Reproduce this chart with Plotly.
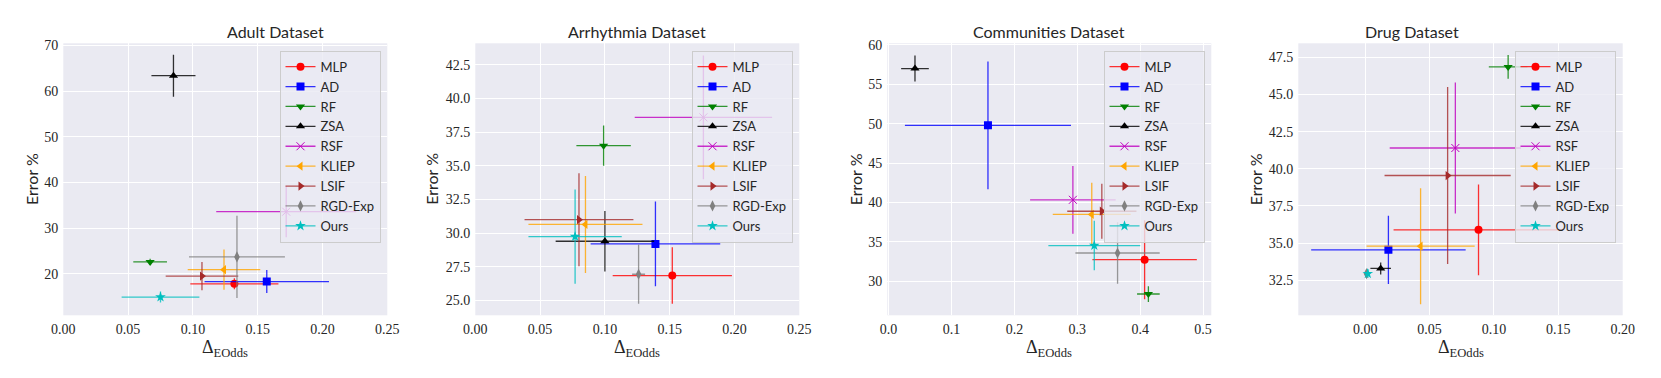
import plotly.graph_objects as go

methods = ["MLP", "AD", "RF", "ZSA", "RSF", "KLIEP", "LSIF", "RGD-Exp", "Ours"]
colors = ["#ff0000", "#0000ff", "#008000", "#000000", "#bf00bf", "#ffa500", "#a52a2a", "#808080", "#00bfbf"]
symbols = ["circle", "square", "triangle-down", "triangle-up", "x-thin-open",
           "triangle-left", "triangle-right", "diamond-tall", "star"]

titles = ["Adult Dataset", "Arrhythmia Dataset", "Communities Dataset", "Drug Dataset"]

# Adult
adult_x = [0.132, 0.157, 0.067, 0.085, 0.172, 0.124, 0.107, 0.134, 0.075]
adult_x_err = [0.034, 0.048, 0.013, 0.017, 0.054, 0.028, 0.028, 0.037, 0.030]
adult_y = [17.8, 18.3, 22.6, 63.4, 33.6, 20.9, 19.5, 23.7, 14.9]
adult_y_err = [1.2, 2.5, 0.7, 4.6, 5.6, 4.4, 3.1, 9.0, 1.2]

# Arrhythmia
arr_x = [0.152, 0.139, 0.099, 0.100, 0.176, 0.085, 0.080, 0.126, 0.077]
arr_x_err = [0.046, 0.050, 0.021, 0.038, 0.053, 0.044, 0.042, 0.005, 0.036]
arr_y = [26.85, 29.2, 36.5, 29.4, 38.6, 30.65, 31.0, 26.95, 29.75]
arr_y_err = [2.1, 3.15, 1.5, 2.25, 4.6, 3.6, 3.45, 2.2, 3.5]

# Communities
comm_x = [0.407, 0.158, 0.413, 0.042, 0.293, 0.323, 0.339, 0.364, 0.327]
comm_x_err = [0.083, 0.132, 0.018, 0.022, 0.068, 0.062, 0.055, 0.067, 0.073]
comm_y = [32.75, 49.8, 28.4, 57.0, 40.35, 38.5, 38.9, 33.6, 34.55]
comm_y_err = [5.0, 8.1, 1.0, 1.65, 4.3, 4.0, 3.5, 3.9, 3.15]

# Drug
drug_x = [0.088, 0.018, 0.111, 0.012, 0.070, 0.043, 0.064, 0.001, 0.002]
drug_x_err = [0.066, 0.060, 0.015, 0.008, 0.051, 0.042, 0.049, 0.002, 0.002]
drug_y = [35.9, 34.55, 46.85, 33.3, 41.4, 34.8, 39.55, 32.95, 32.95]
drug_y_err = [3.05, 2.3, 0.8, 0.4, 4.4, 3.9, 5.95, 0.3, 0.3]

datasets = [
    (adult_x, adult_x_err, adult_y, adult_y_err),
    (arr_x, arr_x_err, arr_y, arr_y_err),
    (comm_x, comm_x_err, comm_y, comm_y_err),
    (drug_x, drug_x_err, drug_y, drug_y_err),
]

# page body has an 8px margin, so draw into a slightly smaller figure
OFF = 8
W, H = 1661 - OFF, 378 - OFF
left_px = [63.3, 475.3, 887.3, 1298.3]
right_px = [387.3, 799.3, 1211.3, 1622.7]
top_px, bottom_px = 43.3, 315.3
legend_right_px = [380.5, 792.5, 1204.5, 1615.5]
ylabel_px = [31.7, 431.5, 855, 1255]


def px_x(p):
    return (p - OFF) / W


def px_y(p):
    return 1 - (p - OFF) / H


def rgba(h, a):
    return "rgba(%d,%d,%d,%s)" % (int(h[1:3], 16), int(h[3:5], 16), int(h[5:7], 16), a)


x_ranges = [[0, 0.25], [0, 0.25], [-0.002, 0.513], [-0.052, 0.2]]
y_ranges = [[10.9, 70.5], [23.9, 44.1], [25.7, 60.2], [30.15, 48.44]]
x_ticks = [[0, 0.05, 0.1, 0.15, 0.2, 0.25], [0, 0.05, 0.1, 0.15, 0.2, 0.25],
           [0, 0.1, 0.2, 0.3, 0.4, 0.5], [0, 0.05, 0.1, 0.15, 0.2]]
x_fmt = [".2f", ".2f", ".1f", ".2f"]
y_ticks = [[20, 30, 40, 50, 60, 70], [25, 27.5, 30, 32.5, 35, 37.5, 40, 42.5],
           [30, 35, 40, 45, 50, 55, 60], [32.5, 35, 37.5, 40, 42.5, 45, 47.5]]
y_fmt = ["d", ".1f", "d", ".1f"]

serif = "Liberation Serif"
sans = "Lato"
txt = "#262626"

fig = go.Figure()
layout = {}
annotations = []

for k, (xs, xe, ys, ye) in enumerate(datasets):
    n = "" if k == 0 else str(k + 1)
    leg = "legend" + n
    for i, m in enumerate(methods):
        c = colors[i]
        thin = symbols[i] == "x-thin-open"
        fig.add_trace(go.Scatter(
            x=[xs[i]], y=[ys[i]], mode="lines+markers", name=m,
            xaxis="x" + n, yaxis="y" + n, legend=leg,
            line=dict(color=rgba(c, 0.8), width=1.3),
            marker=dict(symbol=symbols[i], color=c, size=8,
                        line=dict(width=1 if thin else 0, color=c)),
            error_x=dict(type="data", array=[xe[i]], color=rgba(c, 0.8), thickness=1.3, width=0),
            error_y=dict(type="data", array=[ye[i]], color=rgba(c, 0.8), thickness=1.3, width=0),
        ))

    layout["xaxis" + n] = dict(
        domain=[px_x(left_px[k]), px_x(right_px[k])], anchor="y" + n,
        range=x_ranges[k], tickvals=x_ticks[k], tickformat=x_fmt[k],
        showgrid=True, gridcolor="white", gridwidth=1.3, zeroline=False,
        showline=False, ticks="", ticklabelstandoff=4, automargin=False,
        tickfont=dict(family=serif, size=14, color=txt),
    )
    layout["yaxis" + n] = dict(
        domain=[px_y(bottom_px), px_y(top_px)], anchor="x" + n,
        range=y_ranges[k], tickvals=y_ticks[k], tickformat=y_fmt[k],
        showgrid=True, gridcolor="white", gridwidth=1.3, zeroline=False,
        showline=False, ticks="", ticklabelstandoff=4, automargin=False,
        tickfont=dict(family=serif, size=14, color=txt),
    )
    layout[leg] = dict(
        x=px_x(legend_right_px[k]), y=px_y(50.7), xanchor="right", yanchor="top",
        bgcolor="rgba(234,234,242,0.8)", bordercolor="#cccccc", borderwidth=1,
        font=dict(family=sans, size=13, color=txt),
        tracegroupgap=0, itemwidth=30,
    )
    annotations.append(dict(
        text=titles[k], x=px_x((left_px[k] + right_px[k]) / 2), y=px_y(31.5),
        xref="paper", yref="paper", showarrow=False, yanchor="middle",
        font=dict(family=sans, size=16, color=txt),
    ))
    annotations.append(dict(
        text="Error %", textangle=-90, x=px_x(ylabel_px[k]), y=px_y((top_px + bottom_px) / 2),
        xref="paper", yref="paper", showarrow=False, xanchor="center", yanchor="middle",
        font=dict(family=sans, size=16, color=txt),
    ))
    annotations.append(dict(
        text="Δ<sub>EOdds</sub>", x=px_x((left_px[k] + right_px[k]) / 2), y=px_y(348),
        xref="paper", yref="paper", showarrow=False, xanchor="center", yanchor="middle",
        font=dict(family=serif, size=18, color=txt),
    ))

fig.update_layout(
    width=W, height=H, margin=dict(l=0, r=0, t=0, b=0, autoexpand=False),
    paper_bgcolor="white", plot_bgcolor="#eaeaf2",
    showlegend=True, annotations=annotations, **layout,
)

fig.write_html("out.html")
